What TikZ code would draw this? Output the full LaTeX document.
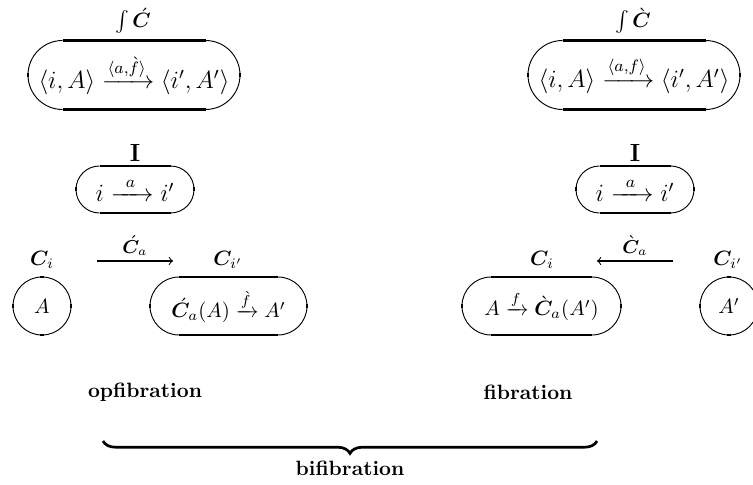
\documentclass[tikz,border=0pt]{standalone}
\usepackage{amsmath,amssymb,bm}
\usetikzlibrary{decorations.pathreplacing,calc}
\newcommand\pillat[3]{%
  \begin{scope}[shift={(#1.center)}]
    \pgfmathsetmacro\pw{#2-#3}
    \draw[arcline] (-\pw,#3) arc[start angle=90,end angle=270,radius=#3];
    \draw[arcline] (\pw,-#3) arc[start angle=-90,end angle=90,radius=#3];
    \draw[flatline] (-\pw,#3) -- (\pw,#3) (-\pw,-#3) -- (\pw,-#3);
    \draw[tickline] (-#2,-2) -- (-#2,2) (#2,-2) -- (#2,2);
  \end{scope}}
\newcommand\ringat[2]{%
  \begin{scope}[shift={(#1.center)}]
    \draw[arcline] (0,0) circle[radius=#2];
    \draw[tickline] (-#2,-2) -- (-#2,2) (#2,-2) -- (#2,2) (-2,#2) -- (2,#2) (-2,-#2) -- (2,-#2);
  \end{scope}}
\begin{document}
\begin{tikzpicture}[x=0.483pt,y=0.483pt,
  arcline/.style={line width=0.45pt},
  flatline/.style={line width=1pt},
  tickline/.style={line width=0.9pt},
  lbl/.style={inner sep=0pt,font=\normalsize},
  cnt/.style={inner sep=0pt,font=\normalsize},
  bigcnt/.style={inner sep=0pt,font=\fontsize{11.5}{14}\selectfont},
  alb/.style={inner sep=0pt,font=\small},
  mapar/.style={->,line width=0.5pt},
  ttl/.style={inner sep=0pt,font=\normalsize\bfseries}]
\useasboundingbox (0,0) rectangle (753,484);
% top row
\node[lbl] (tlL) at (133,463) {$\int\acute{\bm C}$};
\node[bigcnt] (tl) at (134,409) {$\langle i,A\rangle \xrightarrow{\langle a,\grave f\rangle} \langle i',A'\rangle$};
\pillat{tl}{106}{34.5}
\node[lbl] (trL) at (633,463) {$\int\grave{\bm C}$};
\node[bigcnt] (tr) at (634,409) {$\langle i,A\rangle \xrightarrow{\langle a,f\rangle} \langle i',A'\rangle$};
\pillat{tr}{106}{34.5}
% I row
\node[lbl,font=\large] (ilL) at (135,331) {$\mathbf{I}$};
\node[bigcnt] (il) at (135,294.5) {$i \xrightarrow{\;\;a\;\;} i'$};
\pillat{il}{59}{23.5}
\node[lbl,font=\large] (irL) at (635,331) {$\mathbf{I}$};
\node[bigcnt] (ir) at (635,294.5) {$i \xrightarrow{\;\;a\;\;} i'$};
\pillat{ir}{59}{23.5}
% left fibres
\node[lbl] (ciL) at (42,224) {$\bm C_i$};
\node[cnt] (a) at (42,178) {$A$};
\ringat{a}{29}
\node[lbl] (cipL) at (228,224) {$\bm C_{i'}$};
\node[cnt] (ca) at (228.5,178) {$\acute{\bm C}_a(A) \xrightarrow{\grave f} A'$};
\pillat{ca}{78.5}{29}
\coordinate (la1) at (97,223);
\coordinate (la2) at (173,223);
\draw[mapar] (la1) -- node[alb,above=2.5pt] (laL) {$\acute{\bm C}_a$} (la2);
% right fibres
\node[lbl] (ciR) at (542,224) {$\bm C_i$};
\node[cnt] (cb) at (541.5,178) {$A \xrightarrow{f} \grave{\bm C}_a(A')$};
\pillat{cb}{79.5}{29}
\node[lbl] (cipR) at (728,224) {$\bm C_{i'}$};
\node[cnt] (ap) at (729,178) {$A'$};
\ringat{ap}{29}
\coordinate (ra1) at (673,223);
\coordinate (ra2) at (597,223);
\draw[mapar] (ra1) -- node[alb,above=2.5pt] (raL) {$\grave{\bm C}_a$} (ra2);
% bottom
\node[ttl] (op) at (145,92) {opfibration};
\node[ttl] (fib) at (528,92) {fibration};
\coordinate (b1) at (103,43);
\coordinate (b2) at (597,43);
\draw[line width=1.3pt,decorate,decoration={brace,mirror,amplitude=6pt}] (b1) -- (b2);
\node[ttl] (bi) at (350,16) {bifibration};
\end{tikzpicture}
\end{document}
